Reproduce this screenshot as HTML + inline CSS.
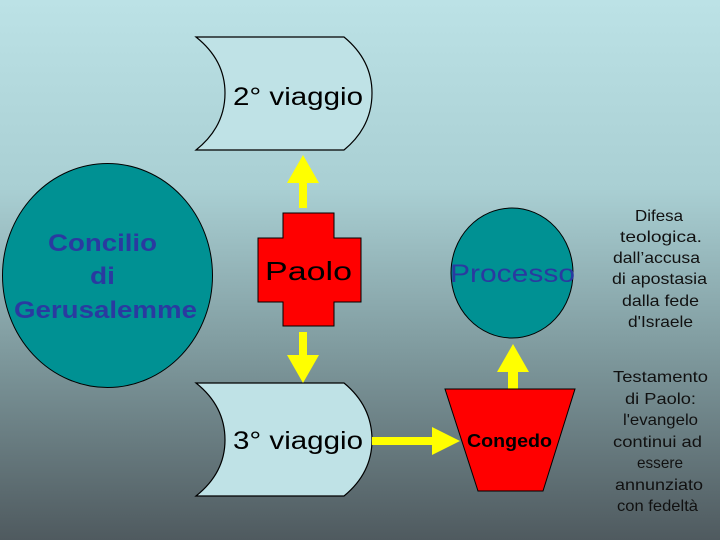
<!DOCTYPE html>
<html><head><meta charset="utf-8"><style>
html,body{margin:0;padding:0}
body{width:720px;height:540px;overflow:hidden}
svg text{font-family:"Liberation Sans",sans-serif}
</style></head><body>
<svg width="720" height="540" viewBox="0 0 720 540" xmlns="http://www.w3.org/2000/svg">
<defs><linearGradient id="bg" x1="0" y1="0" x2="0" y2="1">
<stop offset="0" stop-color="#bce2e6"/><stop offset="0.35" stop-color="#a9cfd3"/><stop offset="0.65" stop-color="#7f9a9e"/><stop offset="1" stop-color="#4f5a5f"/></linearGradient></defs>
<rect width="720" height="540" fill="url(#bg)"/>
<path d="M196,37 L344,37 Q372,60 372,93 Q372,127 344,150 L196,150 Q225,127 225,93 Q225,60 196,37 Z" fill="#bfe2e6" stroke="#000" stroke-width="1.2"/>
<text x="233" y="105" font-size="25" textLength="130" lengthAdjust="spacingAndGlyphs" fill="#000">2° viaggio</text>
<path d="M196,383 L344,383 Q372,406 372,440 Q372,473 344,496 L196,496 Q225,473 225,440 Q225,406 196,383 Z" fill="#bfe2e6" stroke="#000" stroke-width="1.2"/>
<text x="233" y="449" font-size="25" textLength="130" lengthAdjust="spacingAndGlyphs" fill="#000">3° viaggio</text>
<ellipse cx="107.5" cy="275.5" rx="105" ry="112" fill="#009193" stroke="#000" stroke-width="1"/>
<g font-size="24" font-weight="bold" fill="#2a3aa0">
<text x="48" y="251" textLength="109" lengthAdjust="spacingAndGlyphs">Concilio</text>
<text x="90" y="284" textLength="25" lengthAdjust="spacingAndGlyphs">di</text>
<text x="14" y="318" textLength="183" lengthAdjust="spacingAndGlyphs">Gerusalemme</text></g>
<path d="M283,213 L334,213 L334,238 L361,238 L361,302 L334,302 L334,326 L283,326 L283,302 L258,302 L258,238 L283,238 Z" fill="#ff0000" stroke="#000" stroke-width="1"/>
<text x="265" y="280" font-size="26" textLength="87" lengthAdjust="spacingAndGlyphs" fill="#000">Paolo</text>
<g fill="#ffff00">
<path d="M299,208 L307,208 L307,183 L319,183 L303,155 L287,183 L299,183 Z"/>
<path d="M299,332 L307,332 L307,355 L319,355 L303,383 L287,355 L299,355 Z"/>
<path d="M508,389 L518,389 L518,372 L529,372 L513,344 L497,372 L508,372 Z"/>
<path d="M372,437 L432,437 L432,427 L460,441 L432,455 L432,445 L372,445 Z"/>
</g>
<ellipse cx="512" cy="273" rx="61" ry="65" fill="#009193" stroke="#000" stroke-width="1"/>
<text x="450" y="282" font-size="25" textLength="125" lengthAdjust="spacingAndGlyphs" fill="#2a3aa0">Processo</text>
<path d="M445,389 L575,389 L543,491 L478,491 Z" fill="#ff0000" stroke="#000" stroke-width="1"/>
<text x="467" y="447" font-size="18" font-weight="bold" textLength="85" lengthAdjust="spacingAndGlyphs" fill="#000">Congedo</text>
<g font-size="16" fill="#111" lengthAdjust="spacingAndGlyphs">
<text x="635" y="221" textLength="48" lengthAdjust="spacingAndGlyphs">Difesa</text>
<text x="620" y="242" textLength="82" lengthAdjust="spacingAndGlyphs">teologica.</text>
<text x="613" y="263" textLength="87" lengthAdjust="spacingAndGlyphs">dall’accusa</text>
<text x="612" y="284" textLength="95" lengthAdjust="spacingAndGlyphs">di apostasia</text>
<text x="622" y="306" textLength="77" lengthAdjust="spacingAndGlyphs">dalla fede</text>
<text x="628" y="327" textLength="65" lengthAdjust="spacingAndGlyphs">d'Israele</text>
<text x="613" y="382" textLength="95" lengthAdjust="spacingAndGlyphs">Testamento</text>
<text x="625" y="404" textLength="71" lengthAdjust="spacingAndGlyphs">di Paolo:</text>
<text x="623" y="425" textLength="75" lengthAdjust="spacingAndGlyphs">l'evangelo</text>
<text x="613" y="447" textLength="89" lengthAdjust="spacingAndGlyphs">continui ad</text>
<text x="637" y="468" textLength="46" lengthAdjust="spacingAndGlyphs">essere</text>
<text x="615" y="490" textLength="88" lengthAdjust="spacingAndGlyphs">annunziato</text>
<text x="617" y="511" textLength="81" lengthAdjust="spacingAndGlyphs">con fedeltà</text>
</g>
</svg>
</body></html>
